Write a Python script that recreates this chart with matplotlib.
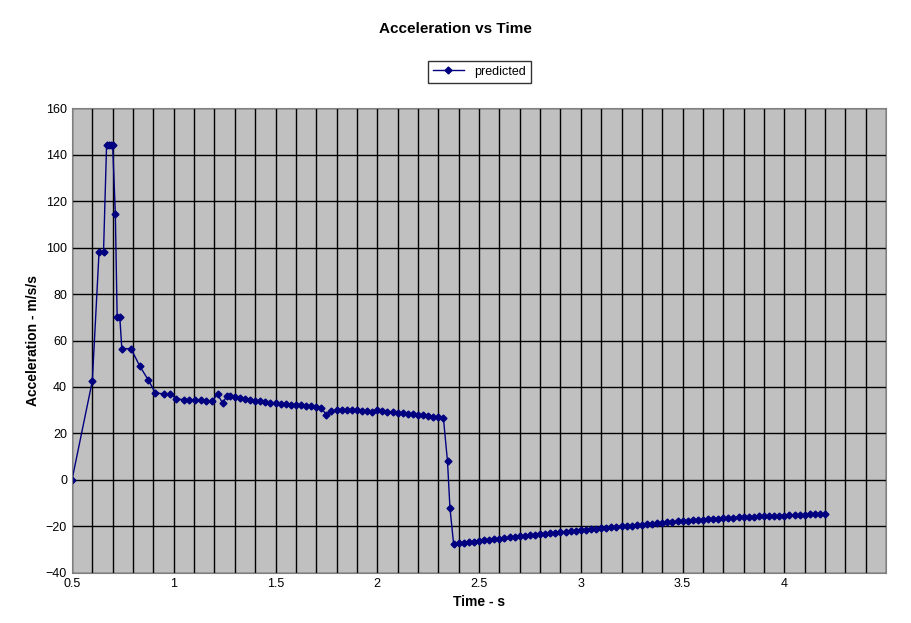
import matplotlib
matplotlib.use("Agg")
import matplotlib.pyplot as plt
from matplotlib.ticker import MultipleLocator

t_early = [0.0, 0.1, 0.133, 0.155, 0.17, 0.18, 0.19, 0.2, 0.213, 0.222, 0.235, 0.245, 0.29,
           0.333, 0.375, 0.41, 0.45, 0.484, 0.51, 0.55, 0.575, 0.605, 0.635, 0.66, 0.69,
           0.715, 0.74, 0.76, 0.775]
a_early = [0.0, 42.6, 98.0, 98.0, 144.0, 144.0, 144.0, 144.0, 114.5, 70.0, 70.0, 56.5, 56.5,
           49.0, 43.0, 37.5, 37.0, 37.0, 35.0, 34.5, 34.5, 34.5, 34.5, 34.0, 34.0,
           37.0, 33.0, 36.0, 36.0]
t_mid = [0.8, 0.825, 0.85, 0.875, 0.9, 0.925, 0.95, 0.975, 1.0, 1.025, 1.05, 1.075, 1.1, 1.125,
         1.15, 1.175, 1.2, 1.225, 1.25, 1.275, 1.3, 1.325, 1.35, 1.375, 1.4, 1.425, 1.45, 1.475,
         1.5, 1.525, 1.55, 1.575, 1.6, 1.625, 1.65, 1.675, 1.7, 1.725, 1.75, 1.775, 1.8, 1.825]
a_mid = [35.5, 35.2, 35.0, 34.5, 34.0, 33.8, 33.5, 33.3, 33.0, 32.8, 32.6, 32.4, 32.2, 32.1,
         32.0, 31.8, 31.5, 31.0, 28.0, 29.5, 30.0, 30.0, 30.2, 30.0, 30.0, 29.8, 29.5, 29.4,
         30.0, 29.6, 29.3, 29.1, 29.0, 28.8, 28.5, 28.3, 28.0, 27.8, 27.5, 27.2, 27.0, 26.5]
t_drop = [1.845, 1.857]
a_drop = [8.0, -12.0]
t_tail = [1.875, 1.9, 1.925, 1.95, 1.975, 2.0, 2.025, 2.05, 2.075, 2.1, 2.125, 2.15, 2.175, 2.2,
          2.225, 2.25, 2.275, 2.3, 2.325, 2.35, 2.375, 2.4, 2.425, 2.45, 2.475, 2.5, 2.525, 2.55,
          2.575, 2.6, 2.625, 2.65, 2.675, 2.7, 2.725, 2.75, 2.775, 2.8, 2.825, 2.85, 2.875, 2.9,
          2.925, 2.95, 2.975, 3.0, 3.025, 3.05, 3.075, 3.1, 3.125, 3.15, 3.175, 3.2, 3.225, 3.25,
          3.275, 3.3, 3.325, 3.35, 3.375, 3.4, 3.425, 3.45, 3.475, 3.5, 3.525, 3.55, 3.575, 3.6,
          3.625, 3.65, 3.675, 3.7]
a_tail = [-27.5, -27.3, -27.0, -26.8, -26.5, -26.3, -26.0, -25.7, -25.5, -25.2, -25.0, -24.7, -24.4, -24.2,
          -23.9, -23.7, -23.5, -23.3, -23.1, -22.9, -22.6, -22.4, -22.2, -22.0, -21.8, -21.6, -21.4, -21.2,
          -21.0, -20.8, -20.6, -20.4, -20.2, -20.0, -19.8, -19.6, -19.4, -19.2, -19.0, -18.8, -18.6, -18.4,
          -18.2, -18.0, -17.8, -17.6, -17.5, -17.3, -17.2, -17.0, -16.9, -16.7, -16.6, -16.5, -16.3, -16.2,
          -16.1, -16.0, -15.9, -15.8, -15.7, -15.6, -15.6, -15.5, -15.4, -15.3, -15.2, -15.1, -15.0, -14.9,
          -14.8, -14.7, -14.6, -14.5]

t = t_early + t_mid + t_drop + t_tail
a = a_early + a_mid + a_drop + a_tail

plt.rcParams['font.family'] = ['Liberation Sans', 'DejaVu Sans']
fig = plt.figure(figsize=(9.11, 6.23), dpi=100)
ax = fig.add_axes([0.079, 0.0803, 0.8937, 0.7463])
ax.set_facecolor('#C0C0C0')
ax.plot(t, a, color='#000080', marker='D', markersize=3.5, linewidth=1, label='predicted')
ax.set_xlim(0, 4)
ax.set_ylim(-40, 160)
ax.xaxis.set_major_locator(MultipleLocator(0.5))
ax.xaxis.set_minor_locator(MultipleLocator(0.1))
ax.yaxis.set_major_locator(MultipleLocator(20))
ax.grid(True, which='both', axis='x', color='black', linewidth=1)
ax.grid(True, which='major', axis='y', color='black', linewidth=1)
ax.set_axisbelow(True)
ax.tick_params(which='both', length=0, labelsize=9)
ax.set_xticklabels(['0', '0.5', '1', '1.5', '2', '2.5', '3', '3.5', '4'])
for s in ax.spines.values():
    s.set_color('gray')
ax.set_xlabel('Time - s', fontsize=10, fontweight='bold')
ax.set_ylabel('Acceleration - m/s/s', fontsize=10, fontweight='bold')
fig.suptitle('Acceleration vs Time', x=0.5, y=0.965, fontsize=11, fontweight='bold')
leg = ax.legend(loc='center', bbox_to_anchor=(0.5, 1.078), fontsize=9, frameon=True,
                fancybox=False, edgecolor='black', handlelength=2.5)
fig.savefig('out.png', dpi=100)
